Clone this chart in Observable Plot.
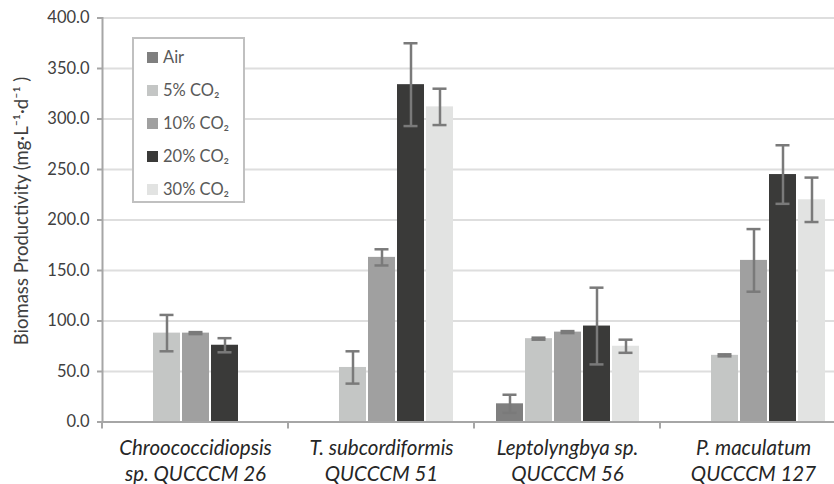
<!DOCTYPE html>
<html><head><meta charset="utf-8">
<script src="https://cdn.jsdelivr.net/npm/d3@7"></script>
<script src="https://cdn.jsdelivr.net/npm/@observablehq/plot@0.6"></script>
<style>
body{margin:0;background:#fff;overflow:hidden;}
#wrap{position:relative;width:834px;height:484px;overflow:hidden;font-family:Lato,sans-serif;background:#fff;}
#chart svg{max-width:none !important;}
#legend{position:absolute;left:132px;top:37px;width:113px;height:166px;border:2px solid #c0c0c0;background:#fff;box-sizing:border-box;}
.item{position:absolute;left:13px;height:20px;display:flex;align-items:center;font-size:16.5px;color:#595959;white-space:nowrap;}
.sw{width:11px;height:11px;margin-right:5px;}
</style></head><body><div id="wrap"><div id="chart"></div><div id="legend"></div></div>
<script>
const categories = ["Chroococcidiopsis sp. QUCCCM 26", "T. subcordiformis QUCCCM 51", "Leptolyngbya sp. QUCCCM 56", "P. maculatum QUCCCM 127"];
const categoryLine1 = ["Chroococcidiopsis", "T. subcordiformis", "Leptolyngbya sp.", "P. maculatum"];
const categoryLine2 = ["sp. QUCCCM 26", "QUCCCM 51", "QUCCCM 56", "QUCCCM 127"];
const series = ["Air", "5% CO₂", "10% CO₂", "20% CO₂", "30% CO₂"];
const seriesColors = ["#7f7f7f", "#c4c6c5", "#a0a0a0", "#3a3a39", "#e2e3e2"];
const airValues   = [null, null, 18, null];
const airErrors   = [null, null, 9, null];
const co2_5Values  = [88, 54, 82.5, 66];
const co2_5Errors  = [18, 16, 1, 1];
const co2_10Values = [88, 163, 89, 160];
const co2_10Errors = [1, 8, 1, 31];
const co2_20Values = [76, 334, 95, 245];
const co2_20Errors = [7, 41, 38, 29];
const co2_30Values = [null, 312, 75, 220];
const co2_30Errors = [null, 18, 6.5, 22];
const yTicks = [0, 50, 100, 150, 200, 250, 300, 350, 400];
const yLabel = "Biomass Productivity (mg·L⁻¹·d⁻¹ )";

const valueTable = [airValues, co2_5Values, co2_10Values, co2_20Values, co2_30Values];
const errorTable = [airErrors, co2_5Errors, co2_10Errors, co2_20Errors, co2_30Errors];
const data = [];
series.forEach((s, i) => categories.forEach((c, j) => {
  const v = valueTable[i][j];
  if (v != null) data.push({category: c, series: s, value: v, error: errorTable[i][j]});
}));

const errStroke = "#7a7a7a";
const axisStroke = "#a6a6a6";
const plot = Plot.plot({
  width: 847, height: 484,
  marginLeft: 101, marginRight: 0, marginTop: 17.5, marginBottom: 62.5,
  style: {fontFamily: "Lato, sans-serif", fontSize: "16.5px", color: "#404040", background: "#fff", maxWidth: "none"},
  fx: {domain: categories, padding: 0, label: null},
  x: {domain: series, paddingInner: 0.085, paddingOuter: 0.7, axis: null},
  y: {domain: [0, 400]},
  color: {domain: series, range: seriesColors},
  marks: [
    Plot.gridY(yTicks, {stroke: "#dedede", strokeOpacity: 1, strokeWidth: 2}),
    Plot.barY(data, {fx: "category", x: "series", y: "value", fill: "series"}),
    Plot.ruleX(data, {fx: "category", x: "series", y1: d => d.value - d.error, y2: d => d.value + d.error, stroke: errStroke, strokeWidth: 2.5}),
    Plot.tickY(data, {fx: "category", x: "series", y: d => d.value + d.error, stroke: errStroke, strokeWidth: 2.5, insetLeft: 6.5, insetRight: 6.5}),
    Plot.tickY(data, {fx: "category", x: "series", y: d => d.value - d.error, stroke: errStroke, strokeWidth: 2.5, insetLeft: 6.5, insetRight: 6.5}),
    Plot.ruleY([0], {stroke: axisStroke, strokeWidth: 2}),
    Plot.frame({anchor: "left", facetAnchor: "left", stroke: axisStroke, strokeWidth: 2}),
    Plot.axisY(yTicks, {tickFormat: d3.format(".1f"), tickSize: 5, tickPadding: 8, stroke: axisStroke, strokeWidth: 2, fill: "#404040", label: null}),
    Plot.axisFx({anchor: "bottom", tickSize: 0, tickPadding: 15, fontSize: 20.5, lineHeight: 1.25, fontStyle: "italic", fill: "#262626",
      tickFormat: c => categoryLine1[categories.indexOf(c)] + "\n" + categoryLine2[categories.indexOf(c)], label: null})
  ]
});
document.getElementById("chart").appendChild(plot);

const fx = plot.scale("fx"), ys = plot.scale("y");
// category boundary ticks, positioned through the fx and y scales
const edges = categories.map(c => fx.apply(c)).concat([fx.apply(categories[categories.length - 1]) + fx.bandwidth]);
const y0 = ys.apply(0);
d3.select(plot).append("g").selectAll("line").data(edges).join("line")
  .attr("x1", d => d).attr("x2", d => d).attr("y1", y0).attr("y2", y0 + 7)
  .attr("stroke", axisStroke).attr("stroke-width", 2);

// y axis title
d3.select(plot).append("text")
  .attr("transform", "translate(28,211) rotate(-90)")
  .attr("text-anchor", "middle")
  .attr("font-size", "18.5px")
  .attr("fill", "#404040")
  .text(yLabel);

// legend
const leg = document.getElementById("legend");
series.forEach((s, i) => {
  const it = document.createElement("div");
  it.className = "item";
  it.style.top = (8 + i * 33) + "px";
  it.innerHTML = `<span class="sw" style="background:${seriesColors[i]}"></span><span>${s}</span>`;
  leg.appendChild(it);
});
</script></body></html>
